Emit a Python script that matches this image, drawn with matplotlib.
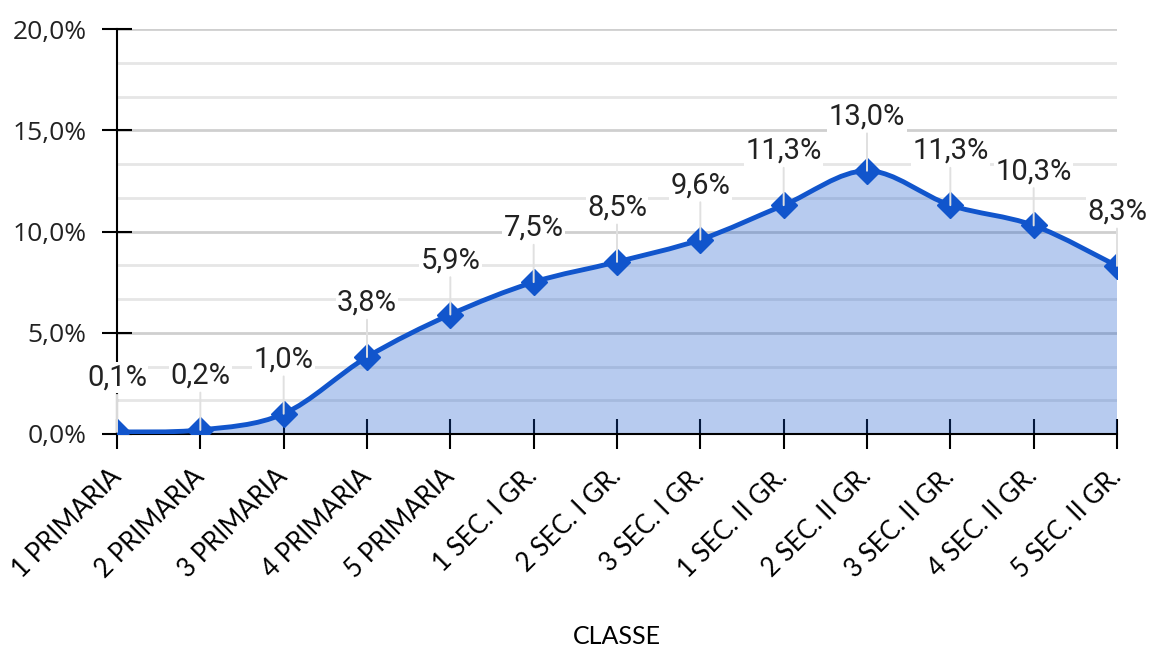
import matplotlib
matplotlib.use("Agg")
import matplotlib.pyplot as plt
from matplotlib.path import Path
from matplotlib.patches import PathPatch
from matplotlib.ticker import MultipleLocator, FuncFormatter
from matplotlib.transforms import ScaledTranslation

# Dati
classi = ["1 PRIMARIA", "2 PRIMARIA", "3 PRIMARIA", "4 PRIMARIA", "5 PRIMARIA",
          "1 SEC. I GR.", "2 SEC. I GR.", "3 SEC. I GR.",
          "1 SEC. II GR.", "2 SEC. II GR.", "3 SEC. II GR.", "4 SEC. II GR.", "5 SEC. II GR."]
percentuali = [0.1, 0.2, 1.0, 3.8, 5.9, 7.5, 8.5, 9.6, 11.3, 13.0, 11.3, 10.3, 8.3]
etichette = ["0,1%", "0,2%", "1,0%", "3,8%", "5,9%", "7,5%", "8,5%", "9,6%",
             "11,3%", "13,0%", "11,3%", "10,3%", "8,3%"]

BLU = "#1155cc"


def curva_smussata(xs, ys):
    # segmenti di Bezier in stile "linea smussata" di Excel
    verts = [(xs[0], ys[0])]
    codes = [Path.MOVETO]
    n = len(xs)
    for i in range(n - 1):
        x0, y0 = xs[max(i - 1, 0)], ys[max(i - 1, 0)]
        x1, y1 = xs[i], ys[i]
        x2, y2 = xs[i + 1], ys[i + 1]
        x3, y3 = xs[min(i + 2, n - 1)], ys[min(i + 2, n - 1)]
        c1 = (x1 + (x2 - x0) / 6, y1 + (y2 - y0) / 6)
        c2 = (x2 - (x3 - x1) / 6, y2 - (y3 - y1) / 6)
        verts += [c1, c2, (x2, y2)]
        codes += [Path.CURVE4] * 3
    return verts, codes


x = list(range(len(classi)))

fig = plt.figure(figsize=(11.51, 6.52), dpi=100)
ax = fig.add_axes([117 / 1151, 1 - 434 / 652, 1000 / 1151, 405 / 652])

verts, codes = curva_smussata(x, percentuali)

# area sotto la curva
area_v = [(x[0], 0)] + verts + [(x[-1], 0), (x[0], 0)]
area_c = [Path.MOVETO, Path.LINETO] + codes[1:] + [Path.LINETO, Path.CLOSEPOLY]
ax.add_patch(PathPatch(Path(area_v, area_c), facecolor=BLU, alpha=0.3,
                       edgecolor="none", zorder=2))
ax.add_patch(PathPatch(Path(verts, codes), facecolor="none", edgecolor=BLU,
                       lw=3.5, zorder=3, capstyle="round"))
ax.plot(x, percentuali, linestyle="none", marker="D", ms=13, color=BLU,
        zorder=4, clip_on=True)

for xi, yi, lab in zip(x, percentuali, etichette):
    ax.annotate(lab, (xi, yi), xytext=(0, 39), textcoords="offset points",
                ha="center", va="center", fontsize=21, family="Roboto",
                color="#222222", zorder=5, annotation_clip=False,
                bbox=dict(boxstyle="square,pad=0.05", fc="white", ec="none"),
                arrowprops=dict(arrowstyle="-", color="#e0e0e0", lw=1.4,
                                shrinkA=1, shrinkB=0))

ax.set_xlim(0, 12)
ax.set_ylim(0, 20)
ax.yaxis.set_major_locator(MultipleLocator(5))
ax.yaxis.set_minor_locator(MultipleLocator(5 / 3))
ax.yaxis.set_major_formatter(FuncFormatter(lambda v, p: f"{v:.1f}%".replace(".", ",")))
ax.grid(True, which="major", axis="y", color="#cfcfcf", lw=2, zorder=1)
ax.grid(True, which="minor", axis="y", color="#e6e6e6", lw=2, zorder=1)
ax.set_axisbelow(True)

ax.set_xticks(x)
ax.set_xticklabels(classi, rotation=45, ha="right", va="center",
                   rotation_mode="anchor", fontsize=18.5, family="Lato")
for lab in ax.get_xticklabels():
    lab.set_transform(lab.get_transform() + ScaledTranslation(29 / 72, 0, fig.dpi_scale_trans))

for lab in ax.get_yticklabels():
    lab.set_family("Open Sans")
    lab.set_fontsize(19)
    lab.set_color("#222222")

ax.tick_params(axis="both", which="major", direction="inout", length=21.5,
               width=1.5, color="black")
ax.tick_params(axis="y", which="major", pad=11)
ax.tick_params(axis="x", which="major", pad=17)
ax.tick_params(axis="y", which="minor", length=0)

for s in ["top", "right"]:
    ax.spines[s].set_visible(False)
for s in ["left", "bottom"]:
    ax.spines[s].set_linewidth(1.5)
    ax.spines[s].set_zorder(2.5)

ax.set_xlabel("CLASSE", fontsize=18, family="Lato", va="center")
ax.xaxis.set_label_coords(0.5, (434 - 637) / 405)

fig.savefig("out.png", dpi=100)
